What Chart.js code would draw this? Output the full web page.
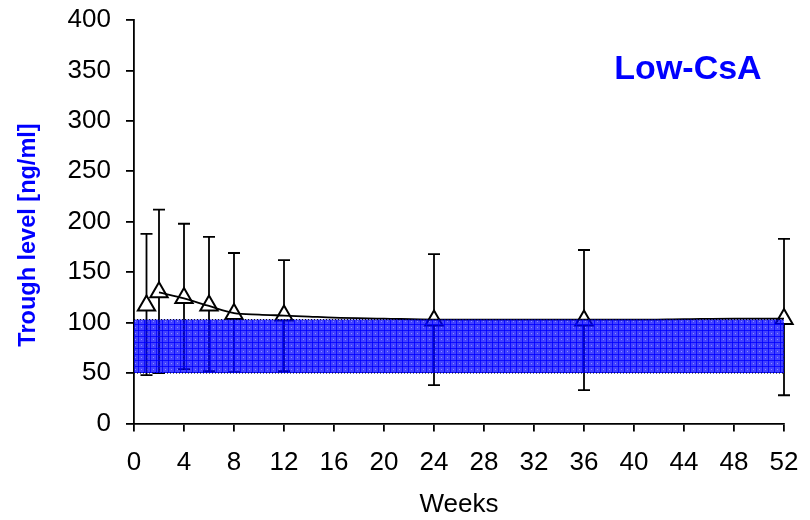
<!DOCTYPE html>
<html>
<head>
<meta charset="utf-8">
<script src="https://cdn.jsdelivr.net/npm/chart.js@4"></script>
<style>
  html, body { margin: 0; padding: 0; background: #fff; }
  #wrap { width: 810px; height: 520px; }
</style>
</head>
<body>
<div id="wrap"><canvas id="c" width="810" height="520"></canvas></div>
<script>
// ---- data ----
const markerWeeks = [1, 2, 4, 6, 8, 12, 24, 36, 52];
const meanLevels  = [117, 130, 124.5, 117, 108.5, 107, 102, 102, 103.5];
const errHigh     = [188, 212, 198, 185, 169, 162, 168, 172, 183];
const errLow      = [48, 50, 54, 52, 51, 52, 38, 33, 28];

const trendWeeks  = [2, 4, 6, 8, 10, 12, 14, 16, 20, 24, 28, 32, 36, 40, 44, 48, 52];
const trendLevels = [130, 124, 116.5, 109.5, 108, 107, 106, 105, 104, 103, 103, 103, 103, 103, 103.5, 104, 104];

const targetWeeks = [0, 52];
const targetLower = [50, 50];
const targetUpper = [103, 103];

const yTickMin = 0, yTickMax = 400, yTickStep = 50;
const xTickMin = 0, xTickMax = 52, xTickStep = 4;

const titleText  = 'Low-CsA';
const yTitleText = 'Trough level [ng/ml]';
const xTitleText = 'Weeks';

// ---- pattern for the therapeutic band ----
function makePattern() {
  const p = document.createElement('canvas');
  p.width = 6; p.height = 6;
  const g = p.getContext('2d');
  g.fillStyle = 'rgba(0,0,255,0.74)';
  g.fillRect(0, 0, 6, 6);
  g.clearRect(0, 0, 6, 1);
  g.clearRect(0, 0, 1, 6);
  g.fillStyle = 'rgba(0,0,255,0.95)';
  g.fillRect(0, 0, 6, 1);
  g.fillRect(0, 0, 1, 6);
  g.clearRect(3, 3, 1, 1);
  g.fillStyle = 'rgba(0,0,255,0.45)';
  g.fillRect(3, 3, 1, 1);
  return g.createPattern(p, 'repeat');
}

const toXY = (xs, ys) => xs.map((x, i) => ({ x: x, y: ys[i] }));

const errorBars = {
  id: 'errorBars',
  beforeDatasetsDraw(chart) {
    const xs = chart.scales.x, ys = chart.scales.y, ctx = chart.ctx;
    ctx.save();
    ctx.strokeStyle = '#000';
    ctx.lineWidth = 1.8;
    const cap = 6;
    markerWeeks.forEach((w, i) => {
      const px = xs.getPixelForValue(w);
      const hi = ys.getPixelForValue(errHigh[i]);
      const lo = ys.getPixelForValue(errLow[i]);
      ctx.beginPath();
      ctx.moveTo(px, hi); ctx.lineTo(px, lo);
      ctx.moveTo(px - cap, hi); ctx.lineTo(px + cap, hi);
      ctx.moveTo(px - cap, lo); ctx.lineTo(px + cap, lo);
      ctx.stroke();
    });
    ctx.restore();
  }
};

const textLabels = {
  id: 'textLabels',
  afterDraw(chart) {
    const ctx = chart.ctx;
    ctx.save();
    ctx.font = 'bold 34px "Liberation Sans", Arial, sans-serif';
    ctx.fillStyle = '#0000ff';
    ctx.textAlign = 'center';
    ctx.textBaseline = 'middle';
    ctx.fillText(titleText, 688, 70);
    ctx.restore();

    ctx.save();
    ctx.translate(35, 235);
    ctx.rotate(-Math.PI / 2);
    ctx.font = 'bold 23.5px "Liberation Sans", Arial, sans-serif';
    ctx.fillStyle = '#0000ff';
    ctx.textAlign = 'center';
    ctx.textBaseline = 'alphabetic';
    ctx.fillText(yTitleText, 0, 0);
    ctx.restore();
  }
};

const tickFont = { family: '"Liberation Sans", Arial, sans-serif', size: 26 };

new Chart(document.getElementById('c'), {
  type: 'line',
  data: {
    datasets: [
      {
        label: 'lower',
        data: toXY(targetWeeks, targetLower),
        borderColor: '#000',
        borderWidth: 1,
        borderDash: [1, 2],
        pointRadius: 0,
        fill: false,
        order: 0,
        clip: false
      },
      {
        label: 'upper',
        data: toXY(targetWeeks, targetUpper),
        borderColor: '#000',
        borderWidth: 1,
        borderDash: [1, 2],
        pointRadius: 0,
        backgroundColor: makePattern(),
        fill: '-1',
        order: 1,
        clip: false
      },
      {
        label: 'trend',
        data: toXY(trendWeeks, trendLevels),
        borderColor: '#000',
        borderWidth: 1.8,
        pointRadius: 0,
        tension: 0.4,
        cubicInterpolationMode: 'monotone',
        fill: false,
        order: 2,
        clip: false
      },
      {
        label: 'mean',
        data: toXY(markerWeeks, meanLevels),
        showLine: false,
        pointStyle: 'triangle',
        pointRadius: 10,
        pointBackgroundColor: '#fff',
        pointBorderColor: '#000',
        pointBorderWidth: 2,
        fill: false,
        order: 3,
        clip: false
      }
    ]
  },
  options: {
    responsive: false,
    animation: false,
    events: [],
    layout: { padding: { left: 0, right: 26, top: 20, bottom: 0 } },
    plugins: {
      legend: { display: false },
      tooltip: { enabled: false },
      filler: { propagate: false }
    },
    scales: {
      x: {
        type: 'linear',
        min: xTickMin, max: xTickMax,
        afterFit(s) { s.height = 96.5; s.paddingLeft = 0; s.paddingRight = 0; },
        border: { display: true, color: '#000', width: 1.8 },
        grid: { drawOnChartArea: false, drawTicks: true, tickLength: 8, color: '#000', lineWidth: 1.8 },
        ticks: { stepSize: xTickStep, color: '#000', font: tickFont, padding: 16, maxRotation: 0, autoSkip: false },
        title: { display: true, text: xTitleText, color: '#000', font: tickFont, padding: { top: 0, bottom: 0 } }
      },
      y: {
        type: 'linear',
        min: yTickMin, max: yTickMax,
        afterFit(s) { s.width = 134; s.paddingTop = 0; s.paddingBottom = 0; },
        border: { display: true, color: '#000', width: 1.8 },
        grid: { drawOnChartArea: false, drawTicks: true, tickLength: 8, color: '#000', lineWidth: 1.8 },
        ticks: { stepSize: yTickStep, color: '#000', font: tickFont, padding: 15 },
        title: { display: false }
      }
    }
  },
  plugins: [errorBars, textLabels]
});
</script>
</body>
</html>
